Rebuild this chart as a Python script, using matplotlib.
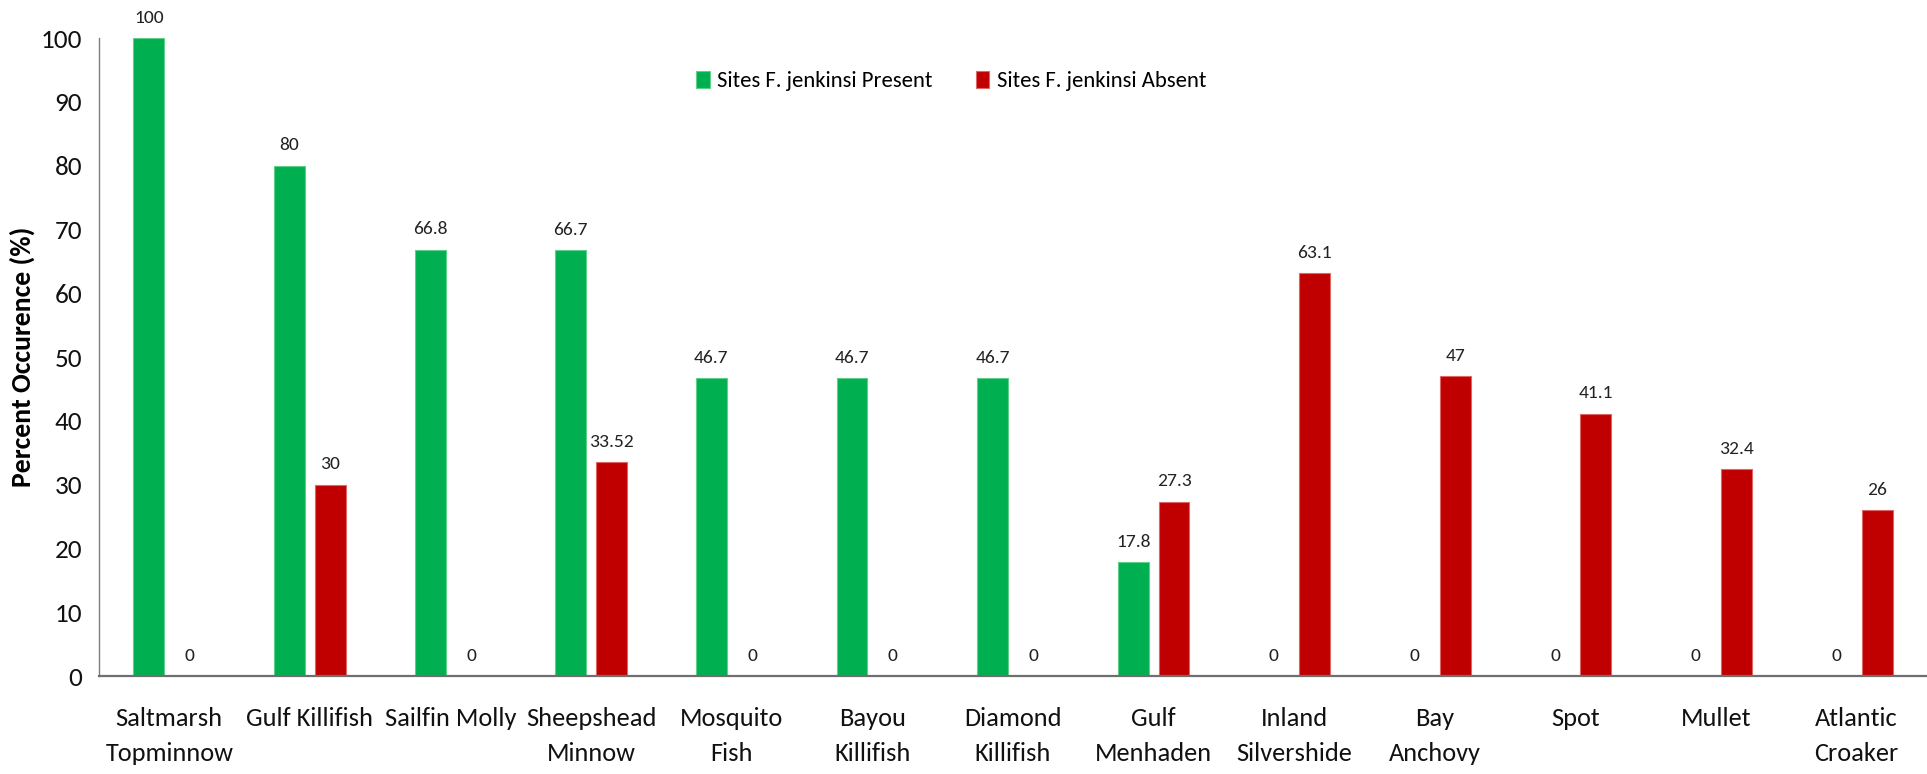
import matplotlib
matplotlib.use("Agg")
import matplotlib.pyplot as plt
import numpy as np
from matplotlib import font_manager

species = ["Saltmarsh\nTopminnow", "Gulf Killifish", "Sailfin Molly", "Sheepshead\nMinnow",
           "Mosquito\nFish", "Bayou\nKillifish", "Diamond\nKillifish", "Gulf\nMenhaden",
           "Inland\nSilvershide", "Bay\nAnchovy", "Spot", "Mullet", "Atlantic\nCroaker"]
present = [100, 80, 66.8, 66.7, 46.7, 46.7, 46.7, 17.8, 0, 0, 0, 0, 0]
absent = [0, 30, 0, 33.52, 0, 0, 0, 27.3, 63.1, 47, 41.1, 32.4, 26]
yticks = [0, 10, 20, 30, 40, 50, 60, 70, 80, 90, 100]

names = {f.name for f in font_manager.fontManager.ttflist}
FONT = "Carlito" if "Carlito" in names else "Lato"

GREEN = "#00B050"
RED = "#C00000"

fig = plt.figure(figsize=(19.27, 7.74), dpi=100)
ax = fig.add_axes([0.0514, 0.1266, 0.9486, 0.8243])

x = np.arange(len(species))
w = 0.22
off = 0.145
b1 = ax.bar(x - off, present, w, color=GREEN, edgecolor="#5fd08a", linewidth=0.8,
            label="Sites F. jenkinsi Present")
b2 = ax.bar(x + off, absent, w, color=RED, edgecolor="#e06666", linewidth=0.8,
            label="Sites F. jenkinsi Absent")

# value labels above every bar
for bars, vals in ((b1, present), (b2, absent)):
    for r, v in zip(bars, vals):
        ax.annotate(f"{v:g}", (r.get_x() + r.get_width() / 2, v), xytext=(0, 9),
                    textcoords="offset points", ha="center", va="bottom",
                    fontsize=14, family=FONT, color="#222222")

ax.set_xlim(-0.5, len(species) - 0.5)
ax.set_ylim(0, 100)
ax.set_yticks(yticks)
ax.set_yticklabels([str(t) for t in yticks], fontsize=19.5, family=FONT, color="#111111")
ax.set_xticks(x)
ax.set_xticklabels(species, fontsize=19, family=FONT, color="#111111")
for lbl in ax.get_xticklabels():
    lbl.set_linespacing(1.68)
ax.tick_params(axis="both", length=0)
ax.tick_params(axis="x", pad=22)
ax.tick_params(axis="y", pad=12)

for s in ("top", "right"):
    ax.spines[s].set_visible(False)
ax.spines["left"].set_color("#7f7f7f")
ax.spines["left"].set_linewidth(1.0)
ax.spines["bottom"].set_color("#6f6f6f")
ax.spines["bottom"].set_linewidth(1.6)

ax.set_ylabel("Percent Occurence (%)", fontsize=20, fontweight="bold", family=FONT)
ax.yaxis.set_label_coords(-0.0418, 0.5)
ax.yaxis.label.set_verticalalignment("center")

leg = fig.legend(handles=[b1, b2], loc="center left", bbox_to_anchor=(0.3612, 0.8953),
                 bbox_transform=fig.transFigure, ncol=2, frameon=False,
                 prop={"family": FONT, "size": 16.25}, handlelength=0.6, handleheight=0.75,
                 columnspacing=1.9, handletextpad=0.35, borderpad=0, borderaxespad=0)

fig.savefig("out.png", dpi=100)
